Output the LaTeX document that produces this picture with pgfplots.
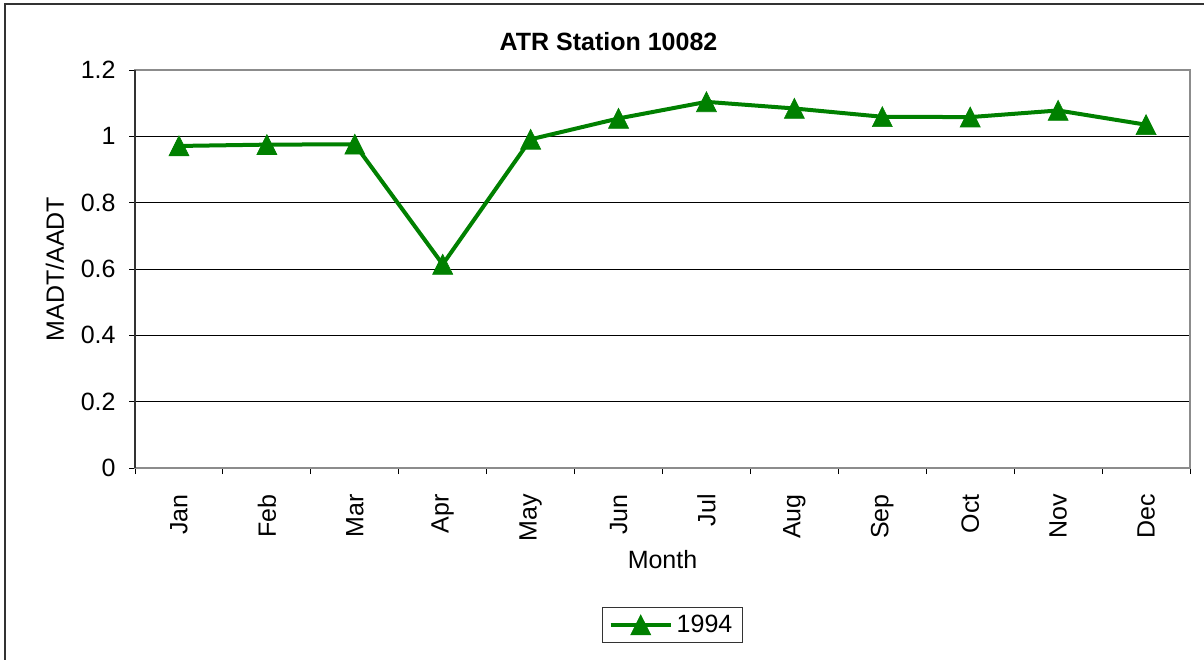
\documentclass[border=0pt]{standalone}
\usepackage{pgfplots}
\pgfplotsset{compat=1.18}
\usepackage{fontspec}
\setmainfont{Liberation Sans}
\definecolor{exgreen}{RGB}{0,128,0}
\definecolor{frame}{RGB}{51,51,51}
\begin{document}
\begin{tikzpicture}[font=\fontsize{12.5}{15}\selectfont]
\useasboundingbox (0,0) rectangle (602pt,-329.5pt);
\draw[frame, line width=0.8pt] (2.5pt,-340pt) -- (2.5pt,-2pt) -- (620pt,-2pt);
\node[font=\fontsize{12.5}{15}\selectfont\bfseries] at (304.25pt,-21pt) {ATR Station 10082};
\begin{axis}[
  at={(67.5pt,-234pt)}, anchor=south west,
  scale only axis, width=527.5pt, height=199pt,
  xmin=0.5, xmax=12.5, ymin=0, ymax=1.2,
  xtick={1,...,12},
  xticklabels={Jan,Feb,Mar,Apr,May,Jun,Jul,Aug,Sep,Oct,Nov,Dec},
  minor xtick={0.5,1.5,...,12.5},
  ytick={0,0.2,...,1.2},
  tick align=outside,
  tick pos=left,
  major x tick style={draw=none},
  minor tick length=3pt, major tick length=3pt,
  every tick/.style={black, line width=0.5pt},
  ymajorgrids, major grid style={black, line width=0.5pt},
  axis line style={draw=gray!90, line width=1pt},
  xticklabel style={rotate=90, anchor=east, inner sep=0pt},
  xticklabel shift=10pt,
  yticklabel style={inner sep=0pt},
  yticklabel shift=6.5pt,
  /pgf/number format/assume math mode=true,
  xlabel={Month},
  xlabel style={at={([yshift=-46pt]rel axis cs:0.5,0)}, anchor=center},
  ylabel={MADT/AADT},
  ylabel style={at={([xshift=-40pt]rel axis cs:0,0.5)}, anchor=center},
  legend style={at={(axis description cs:0.5095,-0.3945)}, anchor=center,
    draw=frame, line width=0.5pt, inner xsep=3pt, inner ysep=1.5pt,
    legend cell align=left},
  legend image code/.code={\draw[mark repeat=2,mark phase=2,#1] plot coordinates {(0pt,0pt) (15pt,0pt) (30pt,0pt)};},
  clip=false,
]
\draw[black!80, line width=1pt] (rel axis cs:0,0) -- (rel axis cs:0,1);
\addplot[exgreen, line width=2pt, mark=triangle*,
  mark options={solid, line width=0.3pt, fill=exgreen, draw=exgreen, mark size=5.8pt, yscale=1.15, yshift=-1.4pt}]
  coordinates {
  (1,0.971) (2,0.975) (3,0.976) (4,0.614) (5,0.991) (6,1.054)
  (7,1.104) (8,1.084) (9,1.059) (10,1.058) (11,1.078) (12,1.035)
  };
\addlegendentry{1994}
\end{axis}
\end{tikzpicture}
\end{document}
